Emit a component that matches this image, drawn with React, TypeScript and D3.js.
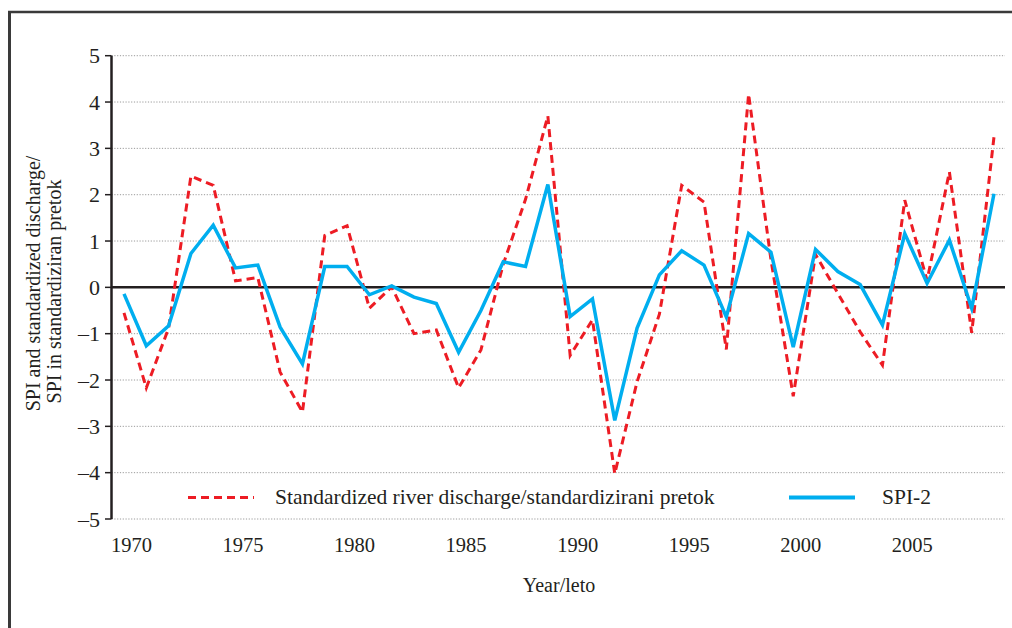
import React from "react";
import * as d3 from "d3";

const years: number[] = d3.range(1970, 2010);

const spi2: number[] = [
  -0.14, -1.26, -0.83, 0.73, 1.34, 0.42, 0.48, -0.86, -1.65, 0.45,
  0.45, -0.16, 0.03, -0.21, -0.35, -1.4, -0.5, 0.55, 0.45, 2.22,
  -0.63, -0.25, -2.87, -0.88, 0.27, 0.79, 0.48, -0.64, 1.16, 0.76,
  -1.29, 0.82, 0.34, 0.06, -0.81, 1.16, 0.09, 1.02, -0.45, 2.02,
];

const discharge: number[] = [
  -0.55, -2.17, -0.88, 2.4, 2.2, 0.14, 0.21, -1.83, -2.69, 1.12,
  1.33, -0.45, 0.01, -1.0, -0.92, -2.17, -1.35, 0.5, 1.9, 3.7,
  -1.47, -0.7, -4.02, -2.04, -0.58, 2.2, 1.84, -1.34, 4.17, 0.6,
  -2.35, 0.71, -0.13, -0.96, -1.68, 1.88, 0.15, 2.49, -0.98, 3.25,
];

const yTicks: number[] = [5, 4, 3, 2, 1, 0, -1, -2, -3, -4, -5];
const xTickLabels: number[] = [1970, 1975, 1980, 1985, 1990, 1995, 2000, 2005];

const legendLabels: string[] = [
  "Standardized river discharge/standardizirani pretok",
  "SPI-2",
];
const yTitle: string[] = ["SPI and standardized discharge/", "SPI in standardiziran pretok"];
const xTitle = "Year/leto";

const W = 1012;
const H = 628;
const FONT = "'Liberation Serif', 'DejaVu Serif', serif";
const INK = "#231f20";
const RED = "#ed1c24";
const BLUE = "#00aeef";

const fmt = (v: number) => (v < 0 ? "\u2013" + Math.abs(v) : String(v));

export default function App() {
  const x = d3.scaleLinear().domain([1970, 2009]).range([124, 994]);
  const y = d3.scaleLinear().domain([-5, 5]).range([519, 55.7]);
  const plotLeft = 111.5;
  const plotRight = 1005;

  const line = d3
    .line<number>()
    .x((_, i) => x(years[i]))
    .y((d) => y(d));

  return (
    <svg
      width={W}
      height={H}
      style={{ position: "absolute", left: 0, top: 0, background: "#fff" }}
      fontFamily={FONT}
    >
      {/* frame */}
      <line x1={9.5} y1={12} x2={9.5} y2={H} stroke="#3a3a3a" strokeWidth={3} />
      <line x1={8} y1={12} x2={W} y2={12} stroke="#3a3a3a" strokeWidth={2.5} />

      {/* gridlines */}
      {yTicks
        .filter((t) => t !== 0)
        .map((t) => (
          <line
            key={"g" + t}
            x1={plotLeft}
            x2={plotRight}
            y1={y(t)}
            y2={y(t)}
            stroke="#9a9a9a"
            strokeWidth={1}
            strokeDasharray="1.2,1.6"
          />
        ))}

      {/* y axis */}
      <line x1={plotLeft} x2={plotLeft} y1={y(5)} y2={y(-5)} stroke={INK} strokeWidth={2.5} />
      {yTicks.map((t) => (
        <g key={"t" + t}>
          <line x1={105} x2={plotLeft} y1={y(t)} y2={y(t)} stroke={INK} strokeWidth={1.5} />
          <text
            x={100}
            y={y(t)}
            dy="0.35em"
            textAnchor="end"
            fontSize={22}
            fill={INK}
          >
            {fmt(t)}
          </text>
        </g>
      ))}

      {/* zero line */}
      <line x1={plotLeft} x2={plotRight} y1={y(0)} y2={y(0)} stroke={INK} strokeWidth={2.5} />

      {/* x labels */}
      {xTickLabels.map((yr) => (
        <text
          key={"x" + yr}
          x={x(yr) + 7.5}
          y={552}
          textAnchor="middle"
          fontSize={20.5}
          fill={INK}
        >
          {yr}
        </text>
      ))}

      {/* series */}
      <path
        d={line(discharge) || ""}
        fill="none"
        stroke={RED}
        strokeWidth={3}
        strokeDasharray="8,5"
      />
      <path d={line(spi2) || ""} fill="none" stroke={BLUE} strokeWidth={3.5} strokeLinejoin="miter" />

      {/* legend */}
      <line x1={188} x2={254} y1={497.5} y2={497.5} stroke={RED} strokeWidth={3} strokeDasharray="8,5" />
      <text x={275} y={504} fontSize={21.5} fill={INK}>
        {legendLabels[0]}
      </text>
      <line x1={789} x2={855} y1={497.5} y2={497.5} stroke={BLUE} strokeWidth={4} />
      <text x={882} y={504} fontSize={21.5} fill={INK}>
        {legendLabels[1]}
      </text>

      {/* axis titles */}
      <text
        transform="translate(40,283.5) rotate(-90)"
        textAnchor="middle"
        fontSize={20}
        fill={INK}
      >
        {yTitle[0]}
      </text>
      <text
        transform="translate(61,291.5) rotate(-90)"
        textAnchor="middle"
        fontSize={20}
        fill={INK}
      >
        {yTitle[1]}
      </text>
      <text x={559} y={592} textAnchor="middle" fontSize={20} fill={INK}>
        {xTitle}
      </text>
    </svg>
  );
}
